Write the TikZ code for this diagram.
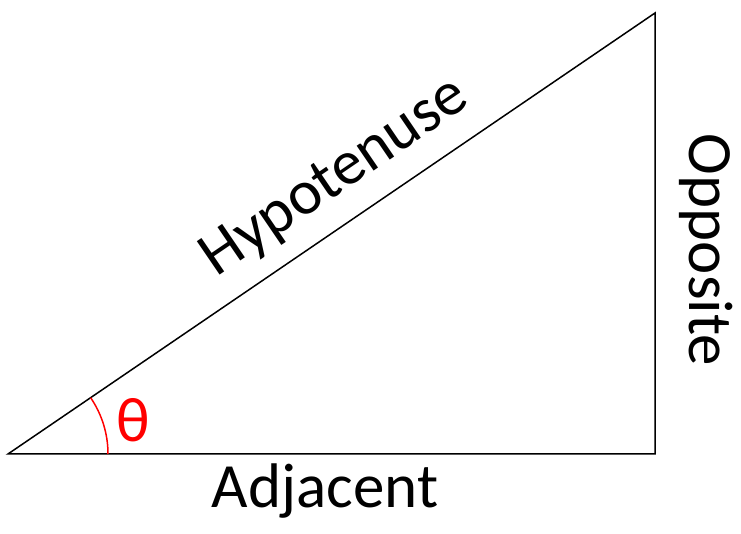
\documentclass[tikz,border=0pt]{standalone}
\usepackage{fontspec}
\setmainfont{Carlito}
\begin{document}
\begin{tikzpicture}[x=1pt,y=1pt,
  side/.style={draw=black,line width=1.5pt,line join=miter},
  lbl/.style={inner sep=0pt,font=\fontsize{63}{75}\selectfont},
  anglemark/.style={draw=red,line width=1.5pt}]
\useasboundingbox (0,0) rectangle (741,534);
\coordinate (A) at (8,80);
\coordinate (B) at (655,80);
\coordinate (C) at (655,521);
\draw[side] (A) -- (B) -- (C) -- cycle;
\draw[anglemark] ([shift={(100,0)}]A) arc[start angle=0,end angle=34.28,radius=100];
\node[lbl,anchor=base,rotate=34.28] (hyp) at (344,343) {Hypotenuse};
\node[lbl,anchor=base] (adj) at (325,26) {Adjacent};
\node[lbl,anchor=base,rotate=-90] (opp) at (689,284) {Opposite};
\node[lbl,text=red] (theta) at (133,114) {θ};
\end{tikzpicture}
\end{document}
